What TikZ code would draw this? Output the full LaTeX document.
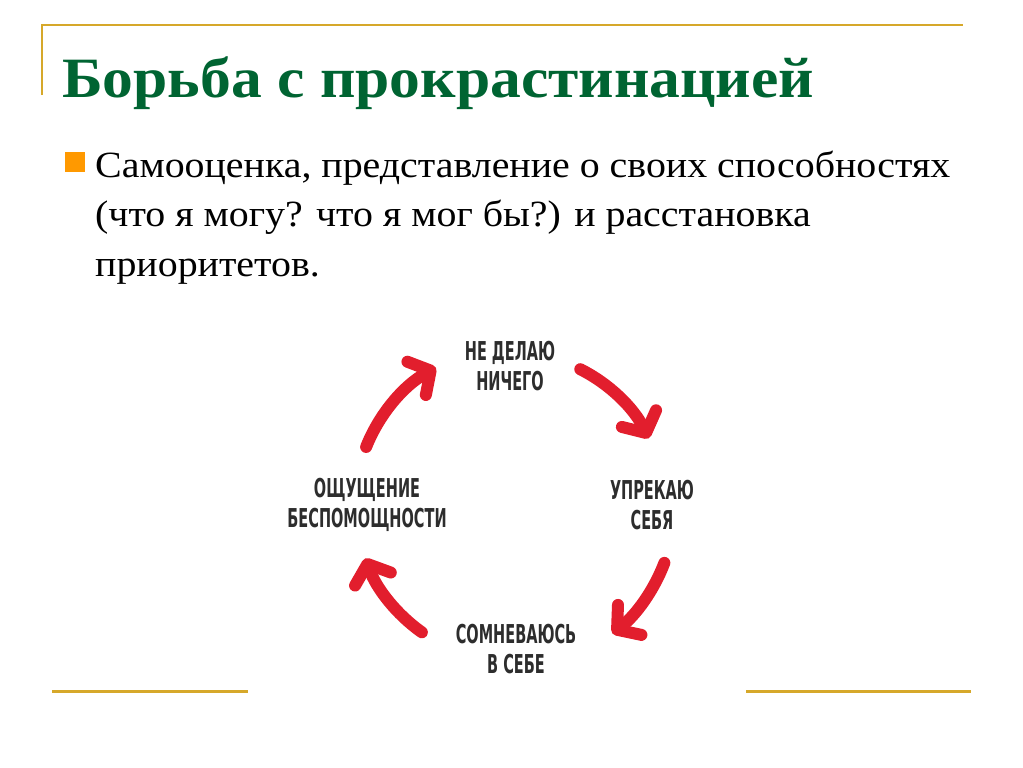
\documentclass[tikz,border=0pt]{standalone}
\usepackage{fontspec}
\setmainfont{Liberation Serif}
\newfontfamily\hand{DejaVu Sans Condensed}
\usetikzlibrary{arrows.meta,calc}
\definecolor{gold}{RGB}{214,168,42}
\definecolor{titlegreen}{RGB}{0,100,50}
\definecolor{bulletorange}{RGB}{255,153,0}
\definecolor{arrowred}{RGB}{226,30,45}
\definecolor{ink}{RGB}{45,45,45}
\newcommand{\hl}[1]{\scalebox{0.62}[1]{#1}}
\newcommand{\bx}[1]{\scalebox{1.078}[1]{#1}}
\tikzset{
  rule/.style={draw=gold, line width=3},
  bodytext/.style={anchor=base west, inner sep=0, font=\fontsize{37}{40}\selectfont, text=black},
  label/.style={align=center, inner sep=0, text=ink, font=\hand\bfseries\fontsize{26}{30}\selectfont},
  cyclearrow/.style={draw=arrowred, line width=12, line cap=round,
    -{Straight Barb[round, length=16, width=38]}}
}
\begin{document}
\begin{tikzpicture}[x=1pt,y=-1pt]
\useasboundingbox (0,0) rectangle (1023,768);
\fill[white] (0,0) rectangle (1023,768);
% frame rules
\draw[draw=gold, line width=2] (42,95) -- (42,25) -- (963,25);
\draw[rule] (52,691) -- (248,691);
\draw[rule] (746,691) -- (971,691);
% title
\node[anchor=base west, inner sep=0, text=titlegreen, font=\fontsize{57}{60}\selectfont\bfseries] (title) at (62,97) {\scalebox{1.08}[1]{Борьба с прокрастинацией}};
% bullet
\node[fill=bulletorange, minimum size=20, inner sep=0] (bullet) at (74.5,162) {};
\node[bodytext] (l1) at (95,177) {\bx{Самооценка, представление о своих способностях}};
\node[bodytext] (l2) at (95,226) {\bx{(что я могу? что я мог бы?) и расстановка}};
\node[bodytext] (l3) at (95,276) {\bx{приоритетов.}};
% cycle labels
\node[label] (top) at (510,366) {\hl{НЕ ДЕЛАЮ}\\\hl{НИЧЕГО}};
\node[label] (right) at (652,505) {\hl{УПРЕКАЮ}\\\hl{СЕБЯ}};
\node[label] (bottom) at (516,649) {\hl{СОМНЕВАЮСЬ}\\\hl{В СЕБЕ}};
\node[label] (left) at (367,505) {\hl{ОЩУЩЕНИЕ}\\\hl{БЕСПОМОЩНОСТИ}};
% arrows
\coordinate (ctr) at (512,505);
\coordinate (a1) at ($(ctr)+(201.7:157)$);
\coordinate (a2) at ($(ctr)+(296.7:152)$);
\coordinate (a3) at ($(ctr)+(20.8:163)$);
\coordinate (a4) at ($(ctr)+(125.3:156)$);
\draw[cyclearrow] (a1) arc[start angle=201.7, end angle=241, radius=157];
\draw[cyclearrow] (a2) arc[start angle=296.7, end angle=334, radius=152];
\draw[cyclearrow] (a3) arc[start angle=20.8, end angle=52, radius=163];
\draw[cyclearrow] (a4) arc[start angle=125.3, end angle=160, radius=156];
\end{tikzpicture}
\end{document}
